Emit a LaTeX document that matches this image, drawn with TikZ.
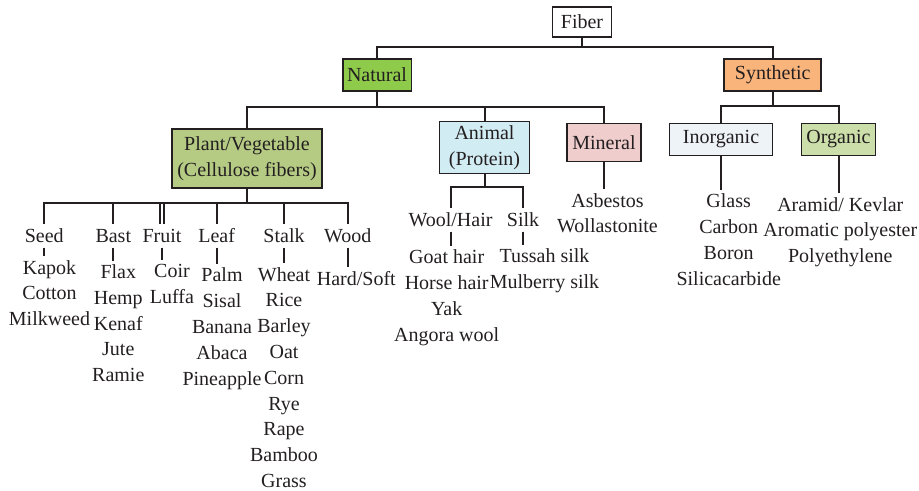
\documentclass[tikz,border=0pt]{standalone}
\usepackage{fontspec}
\setmainfont{Liberation Serif}
\usetikzlibrary{positioning}
\definecolor{cline}{HTML}{231F20}
\definecolor{cnatural}{HTML}{8FCB4B}
\definecolor{cplant}{HTML}{B5CB84}
\definecolor{canimal}{HTML}{D2ECF3}
\definecolor{cmineral}{HTML}{EFCDCC}
\definecolor{csynth}{HTML}{F9B47C}
\definecolor{cinorg}{HTML}{EEF3F8}
\definecolor{corg}{HTML}{CCDFAA}
\tikzset{
  every picture/.style={font=\fontsize{10}{12.9}\selectfont, line width=1pt},
  box/.style={draw=cline, fill=#1, line width=0.8pt, align=center, inner sep=2pt, text=cline},
  box/.default=white,
  link/.style={draw=cline, line width=1pt},
  kind/.style={anchor=base, inner sep=2pt, text height=7pt, text depth=0pt, text=cline},
  items/.style={align=center, anchor=north, inner sep=1.5pt, text=cline},
}

\begin{document}
\begin{tikzpicture}[x=0.5pt, y=-0.5pt]
  \useasboundingbox (0,0) rectangle (919,491);

  % top levels
  \node[box, minimum width=29.5pt, minimum height=15pt] (fiber) at (582,22) {Fiber};
  \node[box=cnatural, minimum width=34.3pt, minimum height=16pt] (natural) at (377,75) {Natural};
  \node[box=csynth, minimum width=48.5pt, minimum height=16pt] (synthetic) at (772.7,75) {Synthetic};
  \coordinate (fiberbar) at (582,47);
  \foreach \c in {natural, synthetic}
    \draw[link] (fiber.south) |- (\c.north |- fiberbar) -- (\c.north);

  % natural
  \node[box=cplant, minimum width=75pt, minimum height=29.5pt] (plant) at (247,158.7) {Plant/Vegetable\\(Cellulose fibers)};
  \node[box=canimal, minimum width=45pt, minimum height=24pt] (animal) at (484.5,147.5) {Animal\\(Protein)};
  \node[box=cmineral, minimum width=37pt, minimum height=19pt] (mineral) at (604,142.5) {Mineral};
  \coordinate (naturalbar) at (377,107);
  \foreach \c in {plant, animal, mineral}
    \draw[link] (natural.south) |- (\c.north |- naturalbar) -- (\c.north);

  % synthetic
  \node[box=cinorg, minimum width=51.5pt, minimum height=16pt] (inorganic) at (721,139.5) {Inorganic};
  \node[box=corg, minimum width=37pt, minimum height=16pt] (organic) at (838.5,139.5) {Organic};
  \coordinate (synthbar) at (772.7,106);
  \foreach \c in {inorganic, organic}
    \draw[link] (synthetic.south) |- (\c.north |- synthbar) -- (\c.north);

  % plant fibers
  \node[kind] (seed)  at (44.2,242.7)  {Seed};
  \node[kind] (bast)  at (113.3,242.7) {Bast};
  \node[kind] (fruit) at (162,242.7)   {Fruit};
  \node[kind] (leaf)  at (216.7,242.7) {Leaf};
  \node[kind] (stalk) at (284,242.7)   {Stalk};
  \node[kind] (wood)  at (347.8,242.7) {Wood};
  \coordinate (plantbar) at (247,203.3);
  \foreach \c in {seed, bast, leaf, stalk, wood}
    \draw[link] (plant.south) |- (\c.north |- plantbar) -- (\c.north);
  \foreach \s in {-0.9pt, 0.9pt}
    \draw[link] (plant.south) |- ([xshift=\s]fruit.north |- plantbar) -- ([xshift=\s]fruit.north);

  \node[items] (seed-list)  at (49.5,256.3)  {Kapok\\Cotton\\Milkweed};
  \node[items] (bast-list)  at (118.3,260.6) {Flax\\Hemp\\Kenaf\\Jute\\Ramie};
  \node[items] (fruit-list) at (172,260)     {Coir\\Luffa};
  \node[items] (leaf-list)  at (222,264)     {Palm\\Sisal\\Banana\\Abaca\\Pineapple};
  \node[items] (stalk-list) at (284,263.3)   {Wheat\\Rice\\Barley\\Oat\\Corn\\Rye\\Rape\\Bamboo\\Grass};
  \node[items] (wood-list)  at (356.3,267.3) {Hard/Soft};
  \foreach \c in {seed, bast, fruit, leaf, stalk, wood}
    \draw[link] (\c.south) -- (\c.south |- \c-list.north);

  % animal fibers
  \node[kind] (wool) at (450.5,226.7) {Wool/Hair};
  \node[kind] (silk) at (523,226.7)   {Silk};
  \coordinate (animalbar) at (484.5,187.3);
  \foreach \c in {wool, silk}
    \draw[link] (animal.south) |- (\c.north |- animalbar) -- (\c.north);
  \node[items] (wool-list) at (446.7,246) {Goat hair\\Horse hair\\Yak\\Angora wool};
  \node[items] (silk-list) at (544.5,245) {Tussah silk\\Mulberry silk};
  \foreach \c in {wool, silk}
    \draw[link] (\c.south) -- (\c.south |- \c-list.north);

  % mineral and synthetic fibers
  \node[items] (mineral-list) at (607.5,189.3)   {Asbestos\\Wollastonite};
  \node[items] (inorganic-list) at (728.7,190)   {Glass\\Carbon\\Boron\\Silicacarbide};
  \node[items] (organic-list) at (840.3,193.3)   {Aramid/ Kevlar\\Aromatic polyester\\Polyethylene};
  \foreach \c in {mineral, inorganic, organic}
    \draw[link] (\c.south) -- (\c.south |- \c-list.north);
\end{tikzpicture}
\end{document}
